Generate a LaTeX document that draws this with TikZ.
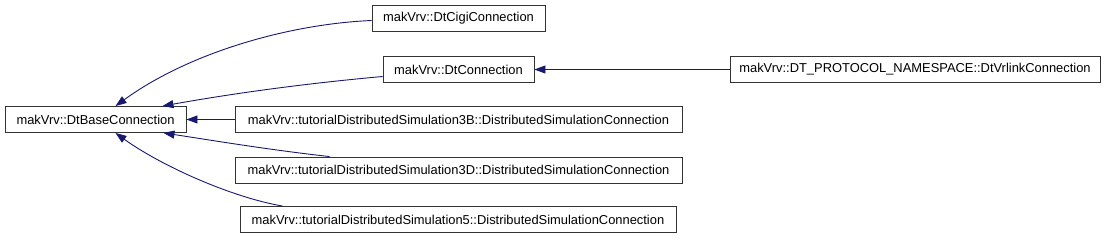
\documentclass[tikz,border=0pt]{standalone}
\usepackage{fontspec}
\setmainfont{Liberation Sans}
\usepackage{tikz}
\usetikzlibrary{arrows.meta}
\definecolor{midblue}{RGB}{25,25,112}
\tikzset{
  cls/.style={draw=black!80, line width=0.9pt, fill=white, inner sep=0pt, minimum height=26pt, font=\fontsize{12.9}{14}\selectfont},
  inherit/.style={draw=midblue, line width=0.9pt, -{Triangle[length=11pt,width=8pt]}}
}
\begin{document}
\begin{tikzpicture}[x=1pt,y=-1pt]
\useasboundingbox (0,0) rectangle (1112,240);
\node (base) [cls, minimum width=181pt] at (95.5,119.5) {makVrv::DtBaseConnection};
\node (cigi) [cls, minimum width=173pt] at (458.5,18.5) {makVrv::DtCigiConnection};
\node (conn) [cls, minimum width=151pt] at (458.5,69.5) {makVrv::DtConnection};
\node (vrlink) [cls, minimum width=370pt] at (915,69.5) {makVrv::DT\_PROTOCOL\_NAMESPACE::DtVrlinkConnection};
\node (sim3b) [cls, minimum width=447pt] at (458.5,119.5) {makVrv::tutorialDistributedSimulation3B::DistributedSimulationConnection};
\node (sim3d) [cls, minimum width=447pt] at (458.5,170) {makVrv::tutorialDistributedSimulation3D::DistributedSimulationConnection};
\node (sim5) [cls, minimum width=436pt] at (458,219.5) {makVrv::tutorialDistributedSimulation5::DistributedSimulationConnection};
% edges to the base class
\draw [inherit] ([yshift=-2pt]cigi.west) .. controls (290,24) and (190,52) .. ([xshift=20pt]base.north);
\draw [inherit] ([yshift=-7pt]conn.west) .. controls (300,84) and (230,94) .. ([xshift=-24pt]base.north east);
\draw [inherit] (sim3b.west) -- (base.east);
\draw [inherit] ([xshift=95pt]sim3d.north west) .. controls (270,150) and (210,140) .. ([xshift=-23pt]base.south east);
\draw [inherit] ([xshift=43pt]sim5.north west) .. controls (230,197) and (160,165) .. ([xshift=20pt]base.south);
\draw [inherit] (vrlink.west) -- (conn.east);
\end{tikzpicture}
\end{document}
